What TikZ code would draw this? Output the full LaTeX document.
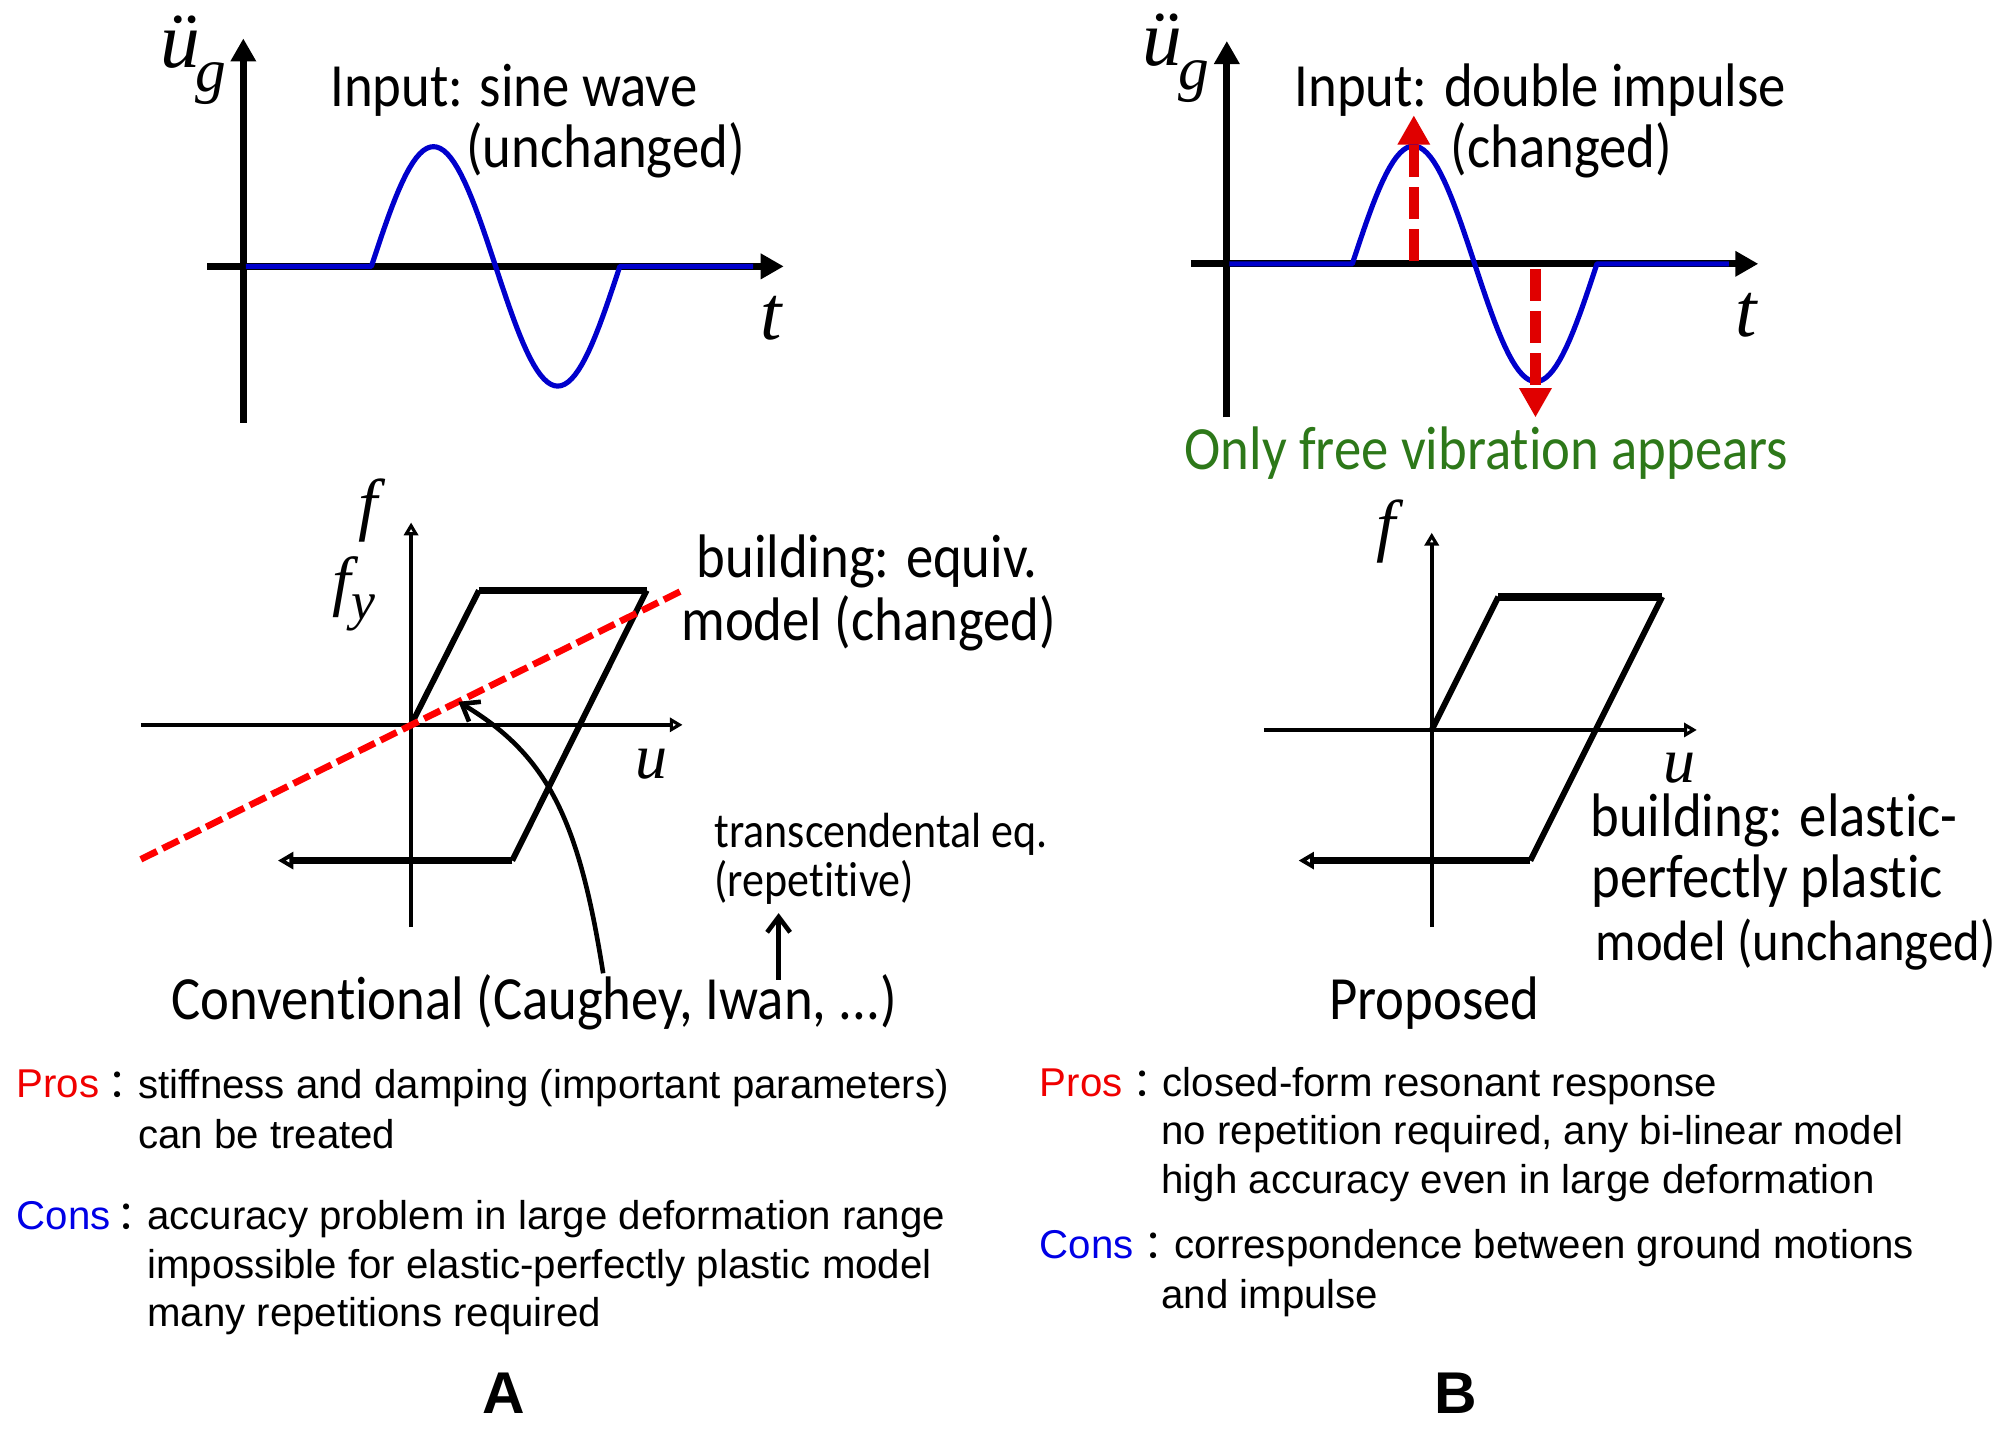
\documentclass[tikz,border=0pt]{standalone}
\usepackage{fontspec}
\usetikzlibrary{arrows.meta}
\setmainfont{Liberation Sans}
\newfontfamily\aptos[FakeStretch=0.89,Ligatures=NoCommon]{Carlito}
\newfontfamily\tms{Liberation Serif}
\newfontfamily\cjk{Noto Sans CJK SC}
\definecolor{plotblue}{RGB}{0,0,204}
\definecolor{impred}{RGB}{224,0,0}
\definecolor{okgreen}{RGB}{45,120,25}
\definecolor{pro}{RGB}{240,0,0}
\definecolor{con}{RGB}{0,0,230}
\newcommand{\fsz}[1]{\fontsize{#1}{#1}\selectfont}
\tikzset{
  x=0.5pt,y=-0.5pt,
  lab/.style={inner sep=0pt,outer sep=0pt,anchor=base west},
  big/.style={lab,yshift=-1.5pt,font=\aptos\fsz{24}},
  med/.style={lab,yshift=-1pt,font=\aptos\fsz{19.3}},
  body/.style={lab,yshift=-1pt,font=\fsz{15.7}},
  mathl/.style={lab,font=\tms\itshape\fsz{#1}},
  axisbig/.style={line width=2.7pt,-{Triangle[length=9pt,width=9.5pt]}},
  axissm/.style={line width=1.6pt,-{Triangle[length=5pt,width=5.5pt,open,fill=white]}},
  wave/.style={plotblue,line width=2pt,line join=round},
  loopl/.style={line width=2.3pt,line join=miter},
  looph/.style={line width=3pt},
  redd/.style={red,line width=2.6pt,dash pattern=on 7pt off 2.5pt},
  impulse/.style={impred,line width=4pt,dash pattern=on 12.5pt off 4pt,-{Triangle[length=11.5pt,width=12pt]}},
  ptr/.style={line width=1.8pt,-{Straight Barb[length=6pt,width=9pt]}},
}
\begin{document}
\begin{tikzpicture}
\useasboundingbox[fill=white] (0,0) rectangle (1568,1120);
% graph A top
\coordinate (a1t) at (190,30); \coordinate (a1b) at (190,330);
\coordinate (a1l) at (162,208); \coordinate (a1r) at (612,208);
\draw[axisbig] (a1b) -- (a1t);
\draw[axisbig] (a1l) -- (a1r);
\draw[wave] (192,208) -- (290,208)
  -- plot[domain=0:360,samples=73] ({290+\x/360*194},{208-93.5*sin(\x)}) -- (588,208);
\node[mathl=31] (a1u) at (125,53) {ü\hspace{-0.05em}\raisebox{-0.3em}{\fsz{24}g}};
\node[mathl=30] (a1t2) at (594,265) {t};
\node[big] (a1i) at (258,80) {Input: sine wave};
\node[big] (a1c) at (364,128) {(unchanged)};
% graph B top
\coordinate (b1t) at (958,32); \coordinate (b1b) at (958,326);
\coordinate (b1l) at (930,206); \coordinate (b1r) at (1373,206);
\draw[axisbig] (b1b) -- (b1t);
\draw[axisbig] (b1l) -- (b1r);
\draw[wave] (960,206) -- (1056,206)
  -- plot[domain=0:360,samples=73] ({1056+\x/360*191},{206-92*sin(\x)}) -- (1350,206);
\coordinate (i1a) at (1104,204); \coordinate (i1b) at (1104,90);
\coordinate (i2a) at (1199,210); \coordinate (i2b) at (1199,326);
\draw[impulse] (i1a) -- (i1b);
\draw[impulse] (i2a) -- (i2b);
\node[mathl=31] (b1u) at (892,51) {ü\hspace{-0.05em}\raisebox{-0.3em}{\fsz{24}g}};
\node[mathl=30] (b1t2) at (1355,263) {t};
\node[big] (b1i) at (1011,80) {Input: double impulse};
\node[big] (b1c) at (1133,128) {(changed)};
\node[big,text=okgreen] (b1o) at (925,364) {Only free vibration appears};
% hysteresis A
\coordinate (a2t) at (321,408); \coordinate (a2b) at (321,724);
\coordinate (a2l) at (110,566); \coordinate (a2r) at (533,566);
\coordinate (a2o) at (321,566); \coordinate (a2p) at (374,461); \coordinate (a2q) at (505,461);
\coordinate (a2s) at (400,672); \coordinate (a2e) at (217,672);
\draw[axissm] (a2b) -- (a2t);
\draw[axissm] (a2l) -- (a2r);
\draw[loopl] (a2o) -- (a2p);
\draw[looph] (a2p) -- (a2q);
\draw[loopl] (a2q) -- (a2s);
\draw[looph,-{Triangle[length=6pt,width=6.5pt,open,fill=white]}] (a2s) -- (a2e);
\coordinate (r1) at (110,671); \coordinate (r2) at (533,461);
\draw[redd] (r1) -- (r2);
\node[mathl=27] (a2f) at (280,412) {f};
\node[mathl=26] (a2fy) at (260,471) {f\raisebox{-0.25em}{\fsz{21}y}};
\node[mathl=25] (a2u) at (496,608) {u};
\node[big] (a2b1) at (544,448) {building: equiv.};
\node[big] (a2b2) at (532,497) {model (changed)};
\node[med] (a2eq) at (558,660) {transcendental eq.};
\node[med] (a2rep) at (558,698) {(repetitive)};
\node[big] (a2conv) at (134,793) {Conventional (Caughey, Iwan, ...)};
\coordinate (c0) at (471,760); \coordinate (c1) at (358,548);
\draw[ptr] (c0) .. controls (452,640) and (428,590) .. (c1);
\coordinate (d0) at (608,765); \coordinate (d1) at (608,713);
\draw[ptr] (d0) -- (d1);
% hysteresis B
\coordinate (b2t) at (1118,416); \coordinate (b2b) at (1118,724);
\coordinate (b2l) at (987,570); \coordinate (b2r) at (1325,570);
\coordinate (b2o) at (1118,570); \coordinate (b2p) at (1170,466); \coordinate (b2q) at (1298,466);
\coordinate (b2s) at (1195,672); \coordinate (b2e) at (1014,672);
\draw[axissm] (b2b) -- (b2t);
\draw[axissm] (b2l) -- (b2r);
\draw[loopl] (b2o) -- (b2p);
\draw[looph] (b2p) -- (b2q);
\draw[loopl] (b2q) -- (b2s);
\draw[looph,-{Triangle[length=6pt,width=6.5pt,open,fill=white]}] (b2s) -- (b2e);
\node[mathl=27] (b2f) at (1075,428) {f};
\node[mathl=25] (b2u) at (1299,611) {u};
\node[big] (b2b1) at (1242,650) {building: elastic-};
\node[big] (b2b2) at (1243,698) {perfectly plastic};
\node[big,font=\aptos\fsz{22.2}] (b2b3) at (1246,747) {model (unchanged)};
\node[big] (b2prop) at (1038,793) {Proposed};
% text A
\node[body,text=pro] (apl) at (13,855) {Pros};
\node[body] (apc) at (84,855) {\cjk ：};
\node[body] (ap1) at (108,856) {stiffness and damping (important parameters)};
\node[body] (ap2) at (108,895) {can be treated};
\node[body,text=con] (acl) at (13,958) {Cons};
\node[body] (acc) at (91,958) {\cjk ：};
\node[body] (ac1) at (115,958) {accuracy problem in large deformation range};
\node[body] (ac2) at (115,996) {impossible for elastic-perfectly plastic model};
\node[body] (ac3) at (115,1034) {many repetitions required};
\node[lab,font=\bfseries\fsz{23}] (la) at (377,1104) {A};
% text B
\node[body,text=pro] (bpl) at (812,854) {Pros};
\node[body] (bpc) at (884,854) {\cjk ：};
\node[body] (bp1) at (908,854) {closed-form resonant response};
\node[body] (bp2) at (907,892) {no repetition required, any bi-linear model};
\node[body] (bp3) at (907,930) {high accuracy even in large deformation};
\node[body,text=con] (bcl) at (812,981) {Cons};
\node[body] (bcc) at (893,981) {\cjk ：};
\node[body] (bc1) at (917,981) {correspondence between ground motions};
\node[body] (bc2) at (907,1020) {and impulse};
\node[lab,font=\bfseries\fsz{23}] (lb) at (1120,1104) {B};
\end{tikzpicture}
\end{document}
